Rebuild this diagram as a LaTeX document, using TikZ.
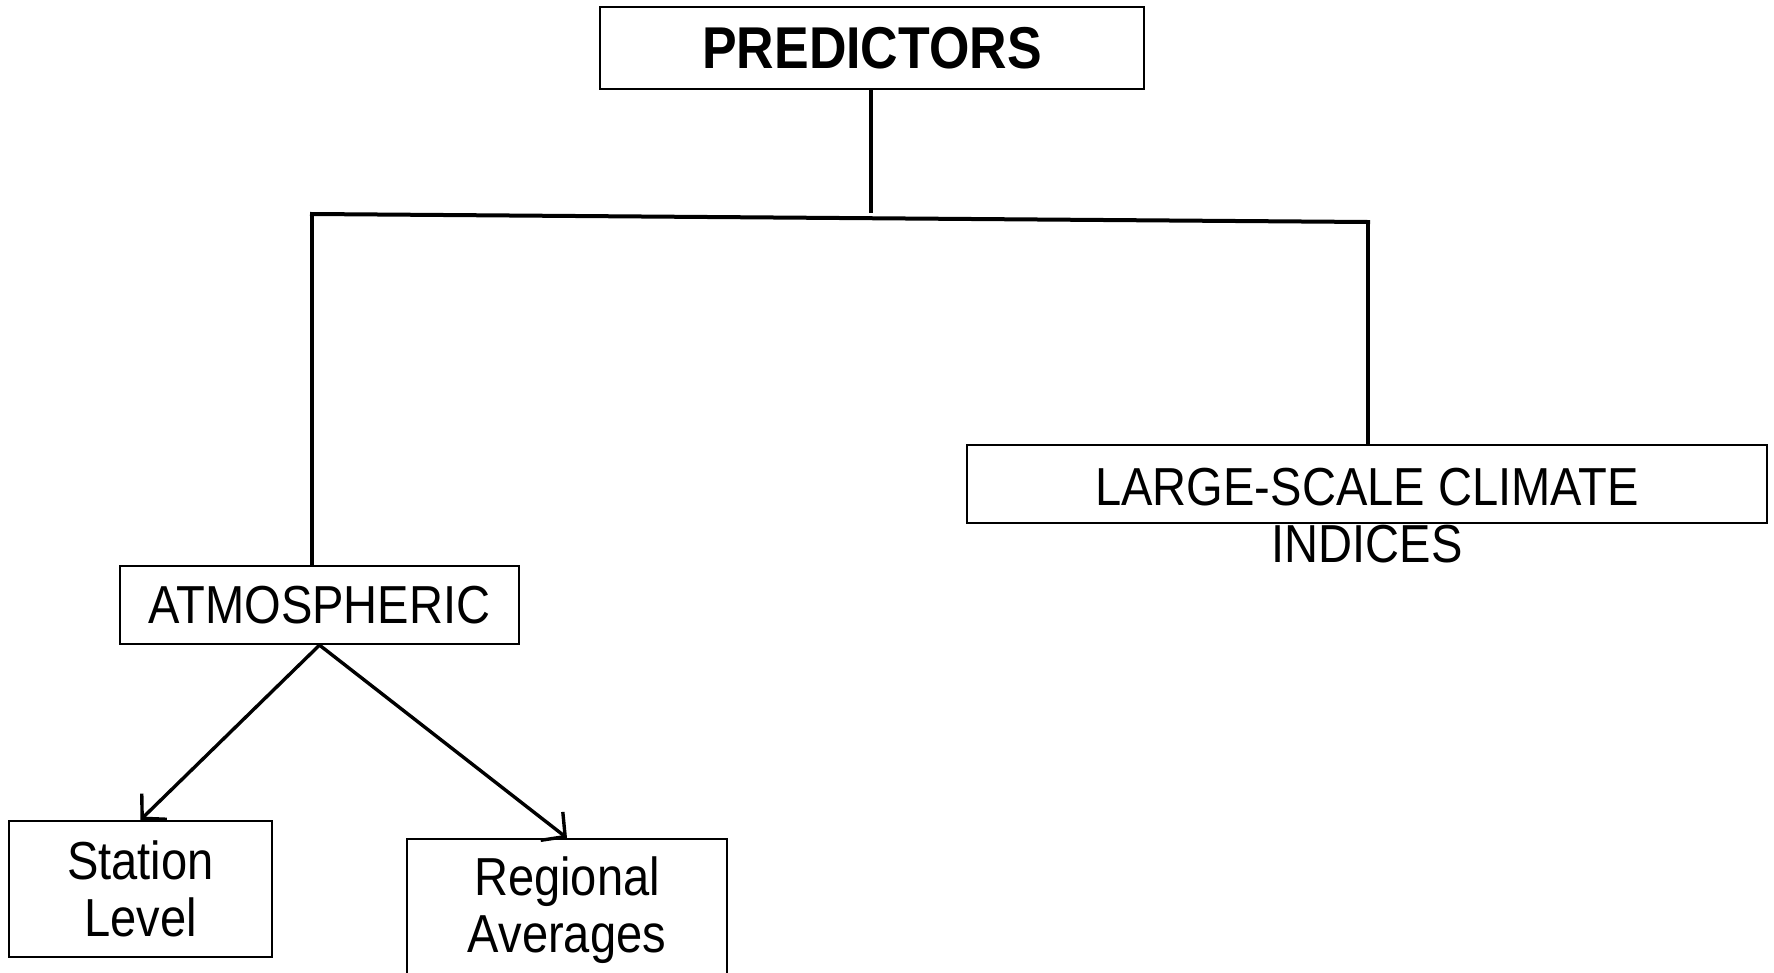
\documentclass[tikz,border=0pt]{standalone}
\usepackage{fontspec}
\setmainfont{Liberation Sans}[FakeStretch=0.88]
\usetikzlibrary{arrows.meta}
\tikzset{
  box/.style={draw=black, line width=2.2pt, inner sep=0pt, fill=none},
  txt/.style={align=center, inner sep=0pt, font=\fontsize{53.5}{57}\selectfont},
  conn/.style={draw=black, line width=4pt},
  arr/.style={draw=black, line width=3.4pt, -{Straight Barb[length=17pt,width=36pt,line width=3.4pt]}}
}
\begin{document}
\begin{tikzpicture}[x=1pt,y=-1pt]
\useasboundingbox (0,0) rectangle (1774,972);
% boxes
\node[box, minimum width=544, minimum height=82, font=\fontsize{59}{60}\selectfont\bfseries] (pred) at (872,48) {PREDICTORS};
\node[box, minimum width=800, minimum height=78] (large) at (1367,484) {};
\node[txt, anchor=base] (largetxt) at (1367,562) {LARGE-SCALE CLIMATE\\INDICES};
\node[box, minimum width=399, minimum height=78, txt] (atm) at (319.5,605) {ATMOSPHERIC};
\node[box, minimum width=263, minimum height=136, txt] (sta) at (140.5,889) {Station\\Level};
\node[box, minimum width=320, minimum height=170, anchor=north] (reg) at (567,838) {};
\node[txt, anchor=base] (regtxt) at (567,952) {Regional\\Averages};
% connectors
\coordinate (stem) at (871,213);
\coordinate (hl) at (312,214);
\coordinate (hr) at (1368,222);
\draw[conn] (pred.south -| stem) -- (stem);
\draw[conn, line cap=rect] (hl) -- (hr);
\draw[conn] (hl) -- (hl |- atm.north);
\draw[conn] (hr) -- (hr |- large.north);
\draw[arr] (atm.south) -- (sta.north);
\draw[arr] (atm.south) -- (reg.north);
\end{tikzpicture}
\end{document}
